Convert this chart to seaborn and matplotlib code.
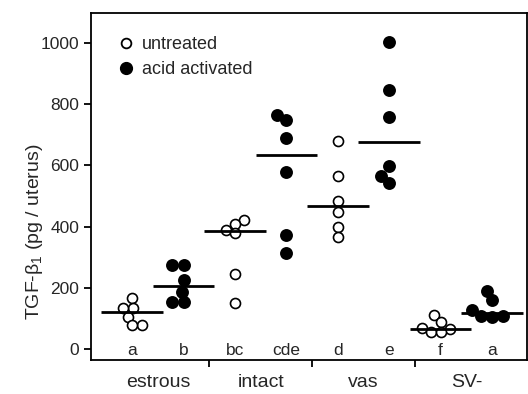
import numpy as np
import pandas as pd
import matplotlib
matplotlib.use("Agg")
import matplotlib.pyplot as plt
from matplotlib.lines import Line2D
import seaborn as sns

groups = ["estrous", "intact", "vas", "SV-"]
treatments = ["untreated", "acid activated"]
letters = ["a", "b", "bc", "cde", "d", "e", "f", "a"]
yticks = [0, 200, 400, 600, 800, 1000]

estrous_untreated = [168, 133, 133, 106, 78, 78]
estrous_acid = [275, 275, 225, 187, 153, 153]
intact_untreated = [420, 410, 390, 378, 245, 150]
intact_acid = [765, 748, 688, 580, 373, 313]
vas_untreated = [680, 566, 485, 449, 400, 365]
vas_acid = [1004, 846, 757, 598, 565, 543]
sv_untreated = [111, 89, 68, 65, 55, 55]
sv_acid = [191, 160, 127, 108, 108, 106]

series = [
    ("estrous", "untreated", estrous_untreated),
    ("estrous", "acid activated", estrous_acid),
    ("intact", "untreated", intact_untreated),
    ("intact", "acid activated", intact_acid),
    ("vas", "untreated", vas_untreated),
    ("vas", "acid activated", vas_acid),
    ("SV-", "untreated", sv_untreated),
    ("SV-", "acid activated", sv_acid),
]

rows = []
for g, t, vals in series:
    pos = groups.index(g) * 2 + treatments.index(t)
    for v in vals:
        rows.append({"group": g, "treatment": t, "pos": pos, "value": v})
df = pd.DataFrame(rows)

sns.set_style("ticks")
plt.rcParams["font.family"] = ["Liberation Sans", "DejaVu Sans"]
plt.rcParams["mathtext.fontset"] = "custom"
plt.rcParams["mathtext.rm"] = "Liberation Sans"
plt.rcParams["mathtext.it"] = "Liberation Sans:italic"

fig = plt.figure(figsize=(5.28, 3.94), dpi=100)
ax = fig.add_axes([91 / 528, 34 / 394, 436 / 528, 347 / 394])

ax.set_xlim(-0.8, 7.68)
ax.set_ylim(-36, 1098)

# swarm laid out with slightly smaller markers so the final, larger
# markers overlap a little as in the reference
n0 = len(ax.collections)
sns.swarmplot(data=df[df.treatment == "untreated"], x="pos", y="value",
              native_scale=True, orient="x", ax=ax, size=5.6,
              color="white", edgecolor="black", linewidth=1.2, zorder=2)
open_cols = ax.collections[n0:]
n1 = len(ax.collections)
sns.swarmplot(data=df[df.treatment == "acid activated"], x="pos", y="value",
              native_scale=True, orient="x", ax=ax, size=7.6,
              color="black", edgecolor="black", linewidth=0, zorder=2)
filled_cols = ax.collections[n1:]
ax.set_xlim(-0.8, 7.68)
ax.set_ylim(-36, 1098)

fig.canvas.draw()
for c in open_cols + filled_cols:
    if "draw" in c.__dict__:
        del c.draw
for c in open_cols:
    c.set_sizes([7.2 ** 2])
for c in filled_cols:
    c.set_sizes([9.3 ** 2])

med = df.groupby("pos")["value"].median()
ax.hlines(med.values, med.index - 0.6, med.index + 0.6, color="black",
          lw=2.0, zorder=3)

for i, lab in enumerate(letters):
    ax.text(i, -6, lab, ha="center", va="center", fontsize=12.5)

ax.set_xlim(-0.8, 7.68)
ax.set_ylim(-36, 1098)
ax.set_yticks(yticks)
ax.set_yticklabels([str(v) for v in yticks], fontsize=12.5)
ax.set_xticks([1.5, 3.5, 5.5])
ax.set_xticklabels([])
ax.set_xticks([0.5, 2.5, 4.5, 6.5], minor=True)
ax.set_xticklabels(groups, minor=True, fontsize=14)
ax.tick_params(axis="x", which="minor", length=0, pad=10)
ax.tick_params(axis="both", which="major", direction="out", length=5,
               width=1.3, color="black")
ax.set_xlabel("")
ax.set_ylabel("TGF-β$_1$ (pg / uterus)", fontsize=14)
ax.yaxis.set_label_coords(-0.105, 0.37)
for s in ax.spines.values():
    s.set_linewidth(1.3)
    s.set_color("black")

handles = [
    Line2D([], [], marker="o", ls="", markerfacecolor="white",
           markeredgecolor="black", markeredgewidth=1.3, markersize=7),
    Line2D([], [], marker="o", ls="", markerfacecolor="black",
           markeredgecolor="black", markersize=8.5),
]
ax.legend(handles, treatments, loc="upper left", frameon=False,
          fontsize=13, handletextpad=0.25, handlelength=1.2,
          labelspacing=0.45, borderaxespad=0.0, bbox_to_anchor=(0.04, 0.955))

fig.savefig("out.png", dpi=100)
